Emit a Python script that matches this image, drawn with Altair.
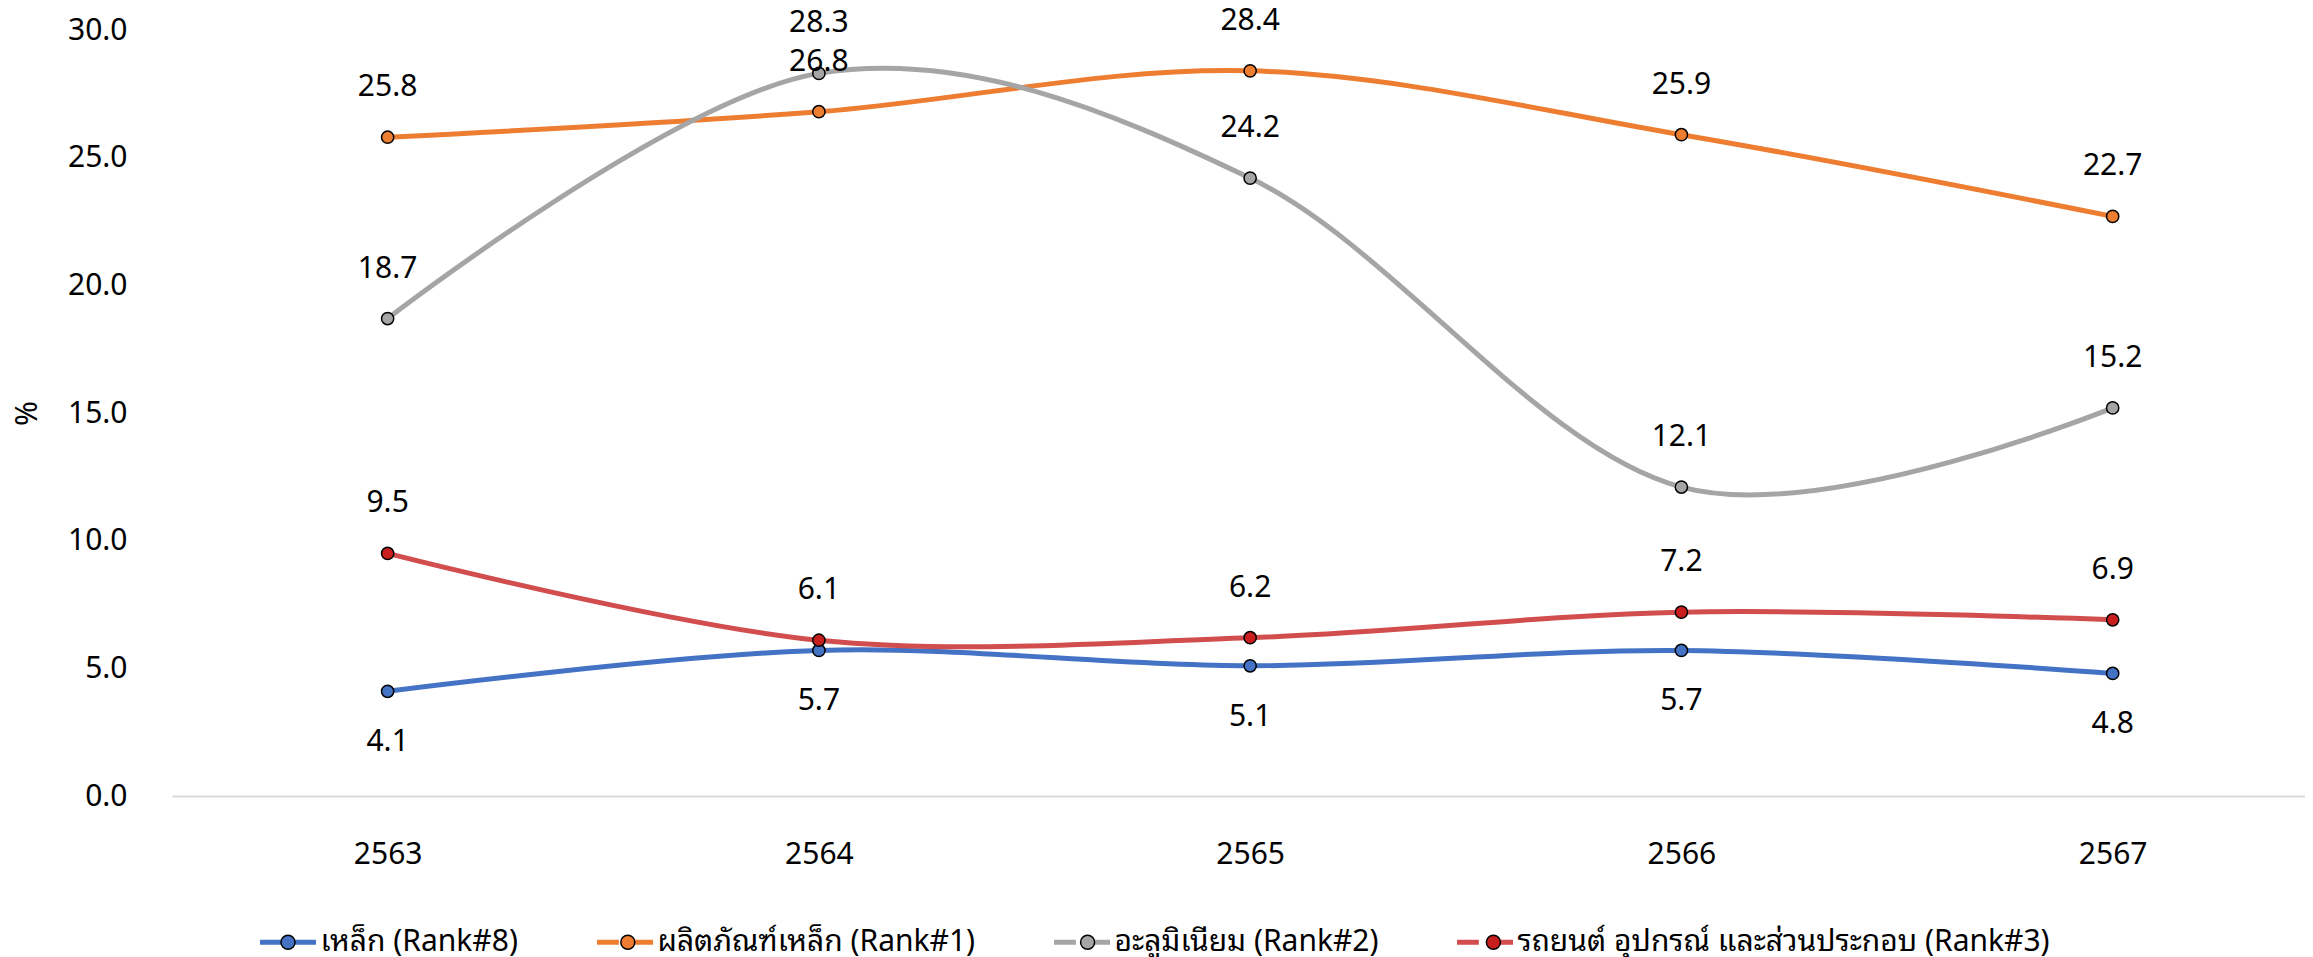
import altair as alt
import pandas as pd

# ---- data ----
years = [2563, 2564, 2565, 2566, 2567]
series = [
    "เหล็ก (Rank#8)",
    "ผลิตภัณฑ์เหล็ก (Rank#1)",
    "อะลูมิเนียม (Rank#2)",
    "รถยนต์ อุปกรณ์ และส่วนประกอบ (Rank#3)",
]
steel = [4.1, 5.7, 5.1, 5.7, 4.8]
steel_products = [25.8, 26.8, 28.4, 25.9, 22.7]
aluminium = [18.7, 28.3, 24.2, 12.1, 15.2]
automotive = [9.5, 6.1, 6.2, 7.2, 6.9]
y_ticks = [0, 5, 10, 15, 20, 25, 30]

line_colors = ["#4472C4", "#ED7D31", "#A5A5A5", "#D24E4E"]
marker_colors = ["#4472C4", "#ED7D31", "#A5A5A5", "#C81E1E"]

rows = []
for name, vals in zip(series, [steel, steel_products, aluminium, automotive]):
    for yr, v in zip(years, vals):
        rows.append({"year": yr, "series": name, "series_m": name, "value": v})
df = pd.DataFrame(rows)

FONT = "Noto Sans Thai Looped, Noto Sans Thai, Noto Sans, sans-serif"

x_enc = alt.X(
    "year:Q",
    scale=alt.Scale(domain=[2562.5, 2567.446], nice=False, zero=False),
    axis=alt.Axis(
        values=years, format="d", title=None, grid=False, ticks=False, tickSize=0,
        labelPadding=43, domainColor="#D9D9D9", domainWidth=2, labelFontSize=30,
        labelColor="black", labelFont=FONT, labelFlush=False,
    ),
)
y_enc = alt.Y(
    "value:Q",
    scale=alt.Scale(domain=[0, 30], nice=False),
    axis=alt.Axis(
        values=y_ticks, format=".1f", title="%", grid=False, ticks=False, tickSize=0,
        domain=False, labelPadding=45, labelFontSize=30, labelColor="black",
        labelFont=FONT, labelFlush=False, titleFontSize=30, titleFontWeight="normal",
        titleFont=FONT, titleColor="black", titleX=-145, titleY=383, titleAngle=270,
        titleAlign="center", titleBaseline="middle",
    ),
)

common_legend = dict(
    orient="none", legendX=85.5, legendY=881.5, direction="horizontal", columns=4,
    title=None, labelFontSize=30, labelFont=FONT, labelColor="black", labelOffset=2,
    labelLimit=0, padding=0,
)

lines = alt.Chart(df).mark_line(interpolate="cardinal", strokeWidth=5).encode(
    x=x_enc,
    y=y_enc,
    color=alt.Color(
        "series:N",
        scale=alt.Scale(domain=series, range=line_colors),
        legend=alt.Legend(
            symbolType="M-1,0H-0.22M0.22,0H1", symbolSize=3136, symbolStrokeWidth=5,
            columnPadding=68, **common_legend,
        ),
    ),
)

points = alt.Chart(df).mark_circle(
    size=150, opacity=1, stroke="black", strokeWidth=1.5
).encode(
    x=x_enc,
    y=y_enc,
    fill=alt.Fill(
        "series_m:N",
        sort=series,
        scale=alt.Scale(range=marker_colors),
        legend=alt.Legend(
            symbolType="M0.235,0A0.235,0.235,0,1,1,-0.235,0A0.235,0.235,0,1,1,0.235,0Z",
            symbolSize=3540.25, symbolStrokeWidth=1.5, symbolStrokeColor="black",
            symbolOpacity=1, labelOpacity=0, columnPadding=78.8, **common_legend,
        ),
    ),
)

text_above = alt.Chart(df).transform_filter(
    alt.datum.series != series[0]
).mark_text(dy=-50, fontSize=30, font=FONT, color="black").encode(
    x=x_enc, y=y_enc, text=alt.Text("value:Q", format=".1f")
)
text_below = alt.Chart(df).transform_filter(
    alt.datum.series == series[0]
).mark_text(dy=51, fontSize=30, font=FONT, color="black").encode(
    x=x_enc, y=y_enc, text=alt.Text("value:Q", format=".1f")
)

chart = alt.layer(lines, points, text_above, text_below).properties(
    width=2133,
    height=766,
    autosize=alt.AutoSizeParams(type="none"),
    padding={"left": 164, "top": 22, "right": 0, "bottom": 161},
).configure_view(stroke=None)

chart.save("out.html", embed_options={"renderer": "svg", "actions": False})
